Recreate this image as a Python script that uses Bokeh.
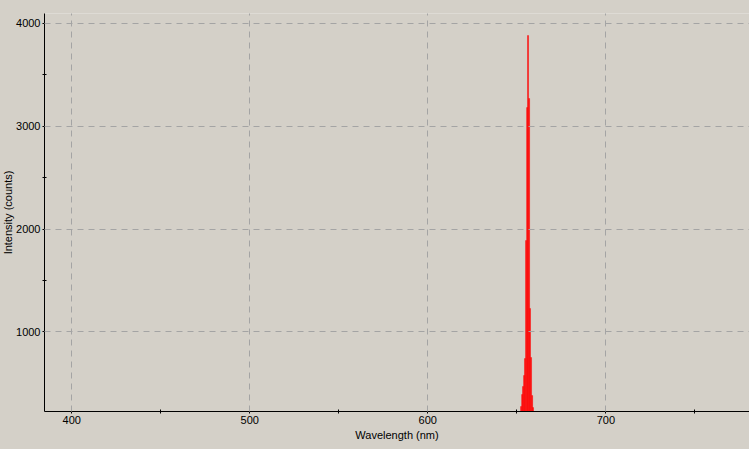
from bokeh.plotting import figure
from bokeh.models import FixedTicker, Range1d
from bokeh.embed import file_html
from bokeh.resources import INLINE

# Data (H-alpha peak)
wavelength_nm = [652.4, 653.0, 653.5, 654.1, 654.6, 655.2, 655.8, 656.3, 656.9, 657.4, 658.0, 658.6, 659.1]
intensity_counts = [273, 390, 468, 575, 740, 1888, 3182, 3883, 3270, 1227, 750, 380, 263]

x_major = [400, 500, 600, 700]
x_minor = [450, 550, 650, 750]
y_major = [1000, 2000, 3000, 4000]
y_minor = [1500, 2500, 3500]

BG = "#D4D0C8"
FONT = "Liberation Sans"

p = figure(width=753, height=453, output_backend="svg", toolbar_location=None,
           x_range=Range1d(384.7, 780.7), y_range=Range1d(224.5, 4097),
           min_border_left=48, min_border_right=0, min_border_top=17, min_border_bottom=38,
           background_fill_color=BG, border_fill_color=BG,
           styles={"margin-left": "-4px", "margin-top": "-4px"})
p.outline_line_color = None

step = 0.575
p.vbar(x=wavelength_nm, top=intensity_counts, bottom=0, width=step,
       fill_color="#FF0000", line_color="#FF0000", line_width=0.4)

for ax, maj, mnr in ((p.xaxis[0], x_major, x_minor), (p.yaxis[0], y_major, y_minor)):
    ax.ticker = FixedTicker(ticks=maj, minor_ticks=mnr)
    ax.axis_line_color = "black"
    ax.axis_line_width = 1
    ax.major_tick_line_color = "black"
    ax.minor_tick_line_color = "black"
    ax.major_tick_in = 2
    ax.major_tick_out = 2
    ax.minor_tick_in = 2
    ax.minor_tick_out = 2
    ax.major_label_text_font = FONT
    ax.major_label_text_font_size = "11px"
    ax.major_label_text_color = "black"
    ax.major_label_standoff = 2
    ax.axis_label_text_font = FONT
    ax.axis_label_text_font_size = "11px"
    ax.axis_label_text_font_style = "normal"
    ax.axis_label_text_color = "black"
    ax.axis_label_standoff = 2

p.yaxis.axis_label_standoff = -1
p.xaxis.axis_label = "Wavelength (nm)"
p.yaxis.axis_label = "Intensity (counts)"

for g in (p.xgrid[0], p.ygrid[0]):
    g.grid_line_color = "#A4A4A4"
    g.grid_line_dash = "6 5"
    g.grid_line_width = 1
    g.level = "overlay"

open("out.html", "w").write(file_html(p, INLINE))
